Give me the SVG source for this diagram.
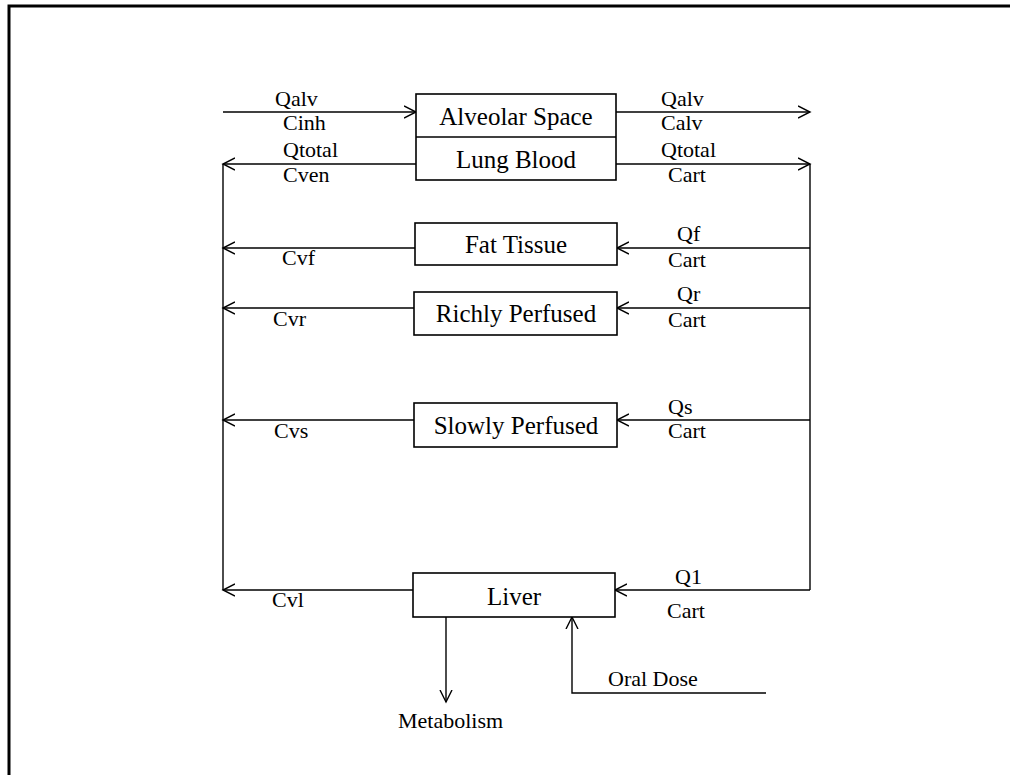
<svg xmlns="http://www.w3.org/2000/svg" width="1010" height="775" viewBox="0 0 1010 775">
<style>
.box{fill:#fff;stroke:#000;stroke-width:1.6}
.ln{fill:none;stroke:#000;stroke-width:1.4}
.bt{font-family:"Liberation Serif",serif;font-size:25px;fill:#000;text-anchor:middle}
.lb{font-family:"Liberation Serif",serif;font-size:22px;fill:#000}
</style>
<defs>
<marker id="ar" markerUnits="userSpaceOnUse" markerWidth="14" markerHeight="14" refX="12" refY="6" orient="auto" viewBox="0 0 14 12">
<path d="M0,0 L12,6 L0,12" fill="none" stroke="#000" stroke-width="1.4"/>
</marker>
</defs>
<rect width="1010" height="775" fill="#fff"/>
<path d="M9 775 L9 6 L1010 6" fill="none" stroke="#000" stroke-width="3"/>
<g id="connectors">
<line class="ln" x1="223" y1="112" x2="416" y2="112" marker-end="url(#ar)"/>
<line class="ln" x1="616" y1="112" x2="810" y2="112" marker-end="url(#ar)"/>
<line class="ln" x1="416" y1="164" x2="223" y2="164" marker-end="url(#ar)"/>
<line class="ln" x1="616" y1="164" x2="810" y2="164" marker-end="url(#ar)"/>
<line class="ln" x1="223" y1="164" x2="223" y2="590"/>
<line class="ln" x1="810" y1="164" x2="810" y2="590"/>
<line class="ln" x1="415" y1="248" x2="223" y2="248" marker-end="url(#ar)"/>
<line class="ln" x1="810" y1="248" x2="617" y2="248" marker-end="url(#ar)"/>
<line class="ln" x1="414" y1="308" x2="223" y2="308" marker-end="url(#ar)"/>
<line class="ln" x1="810" y1="308" x2="617" y2="308" marker-end="url(#ar)"/>
<line class="ln" x1="414" y1="420" x2="223" y2="420" marker-end="url(#ar)"/>
<line class="ln" x1="810" y1="420" x2="617" y2="420" marker-end="url(#ar)"/>
<line class="ln" x1="413" y1="590" x2="223" y2="590" marker-end="url(#ar)"/>
<line class="ln" x1="810" y1="590" x2="615" y2="590" marker-end="url(#ar)"/>
<line class="ln" x1="446" y1="617" x2="446" y2="702" marker-end="url(#ar)"/>
<path class="ln" d="M766 693 L572 693 L572 617" marker-end="url(#ar)"/>
</g>
<g id="labels">
<text class="lb" x="275" y="106">Qalv</text>
<text class="lb" x="283" y="130">Cinh</text>
<text class="lb" x="283" y="157">Qtotal</text>
<text class="lb" x="283" y="182">Cven</text>
<text class="lb" x="661" y="106">Qalv</text>
<text class="lb" x="661" y="130">Calv</text>
<text class="lb" x="661" y="157">Qtotal</text>
<text class="lb" x="668" y="182">Cart</text>
<text class="lb" x="282" y="265">Cvf</text>
<text class="lb" x="677" y="241">Qf</text>
<text class="lb" x="668" y="267">Cart</text>
<text class="lb" x="273" y="326">Cvr</text>
<text class="lb" x="677" y="301">Qr</text>
<text class="lb" x="668" y="327">Cart</text>
<text class="lb" x="274" y="438">Cvs</text>
<text class="lb" x="668" y="414">Qs</text>
<text class="lb" x="668" y="438">Cart</text>
<text class="lb" x="272" y="607">Cvl</text>
<text class="lb" x="675" y="584">Q1</text>
<text class="lb" x="667" y="618">Cart</text>
<text class="lb" x="398" y="728">Metabolism</text>
<text class="lb" x="608" y="686">Oral Dose</text>
</g>
<g id="lung">
<rect class="box" x="416" y="94" width="200" height="86"/>
<line class="ln" x1="416" y1="137" x2="616" y2="137" style="stroke-width:1.6"/>
<text class="bt" x="516" y="125">Alveolar Space</text>
<text class="bt" x="516" y="168">Lung Blood</text>
</g>
<g id="fat">
<rect class="box" x="415" y="223" width="202" height="42"/>
<text class="bt" x="516" y="253">Fat Tissue</text>
</g>
<g id="richly">
<rect class="box" x="414" y="292" width="203" height="43"/>
<text class="bt" x="516" y="322">Richly Perfused</text>
</g>
<g id="slowly">
<rect class="box" x="414" y="403" width="203" height="44"/>
<text class="bt" x="516" y="434">Slowly Perfused</text>
</g>
<g id="liver">
<rect class="box" x="413" y="573" width="202" height="44"/>
<text class="bt" x="514" y="605">Liver</text>
</g>
</svg>
